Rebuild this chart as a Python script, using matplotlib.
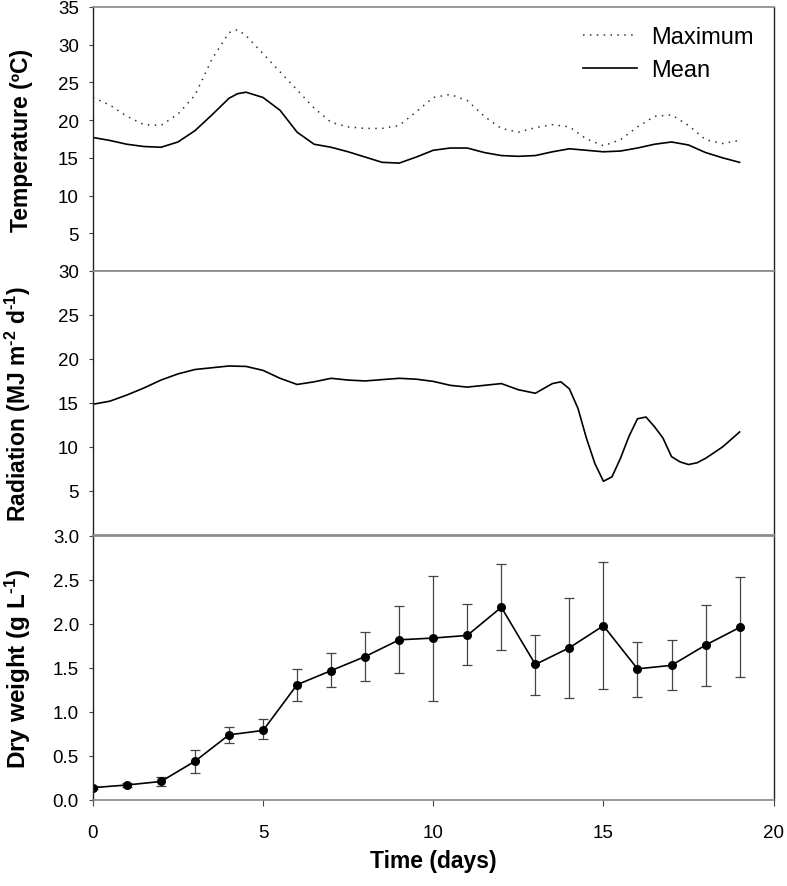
import numpy as np
import matplotlib
matplotlib.use("Agg")
import matplotlib.pyplot as plt

plt.rcParams['font.family'] = ['Liberation Sans', 'DejaVu Sans']
plt.rcParams['mathtext.fontset'] = 'custom'
plt.rcParams['mathtext.rm'] = 'Liberation Sans'
plt.rcParams['mathtext.bf'] = 'Liberation Sans:bold'
plt.rcParams['mathtext.default'] = 'bf'

# temperature, read every half day
temp_days = [0, 0.5, 1, 1.5, 2, 2.5, 3, 3.5, 4, 4.25, 4.5, 5, 5.5, 6, 6.5, 7, 7.5, 8, 8.5, 9,
             9.5, 10, 10.5, 11, 11.5, 12, 12.5, 13, 13.5, 14, 14.5, 15, 15.5, 16, 16.5,
             17, 17.5, 18, 18.5, 19]
temp_max = [23.0, 22.0, 20.5, 19.4, 19.3, 20.8, 23.3, 28.1, 31.6, 32.0, 31.2, 28.8, 26.4, 24.0,
            21.6, 19.7, 19.1, 18.9, 18.9, 19.3, 21.1, 23.0, 23.4, 22.6, 20.5, 18.9, 18.4,
            19.0, 19.4, 19.1, 17.5, 16.6, 17.4, 19.1, 20.5, 20.7, 19.3, 17.4, 16.9, 17.3]
temp_mean = [17.7, 17.3, 16.8, 16.5, 16.4, 17.1, 18.6, 20.7, 22.9, 23.5, 23.7, 23.0, 21.3, 18.4,
             16.8, 16.4, 15.8, 15.1, 14.4, 14.3, 15.1, 16.0, 16.3, 16.3, 15.7, 15.3, 15.2,
             15.3, 15.8, 16.2, 16.0, 15.8, 15.9, 16.3, 16.8, 17.1, 16.7, 15.7, 15.0, 14.4]

# radiation
rad_days = [0, 0.5, 1, 1.5, 2, 2.5, 3, 3.5, 4, 4.5, 5, 5.5, 6, 6.5, 7, 7.5, 8, 8.5, 9, 9.5,
            10, 10.5, 11, 11.5, 12, 12.5, 13, 13.5, 13.75, 14, 14.25, 14.5, 14.75, 15, 15.25,
            15.5, 15.75, 16, 16.25, 16.5, 16.75, 17, 17.25, 17.5, 17.75, 18, 18.5, 19]
radiation = [14.85, 15.2, 15.9, 16.7, 17.6, 18.3, 18.8, 19.0, 19.2, 19.15, 18.7, 17.8, 17.1,
             17.4, 17.8, 17.6, 17.5, 17.65, 17.8, 17.7, 17.45, 17.0, 16.8, 17.0, 17.2, 16.5,
             16.1, 17.2, 17.4, 16.6, 14.4, 11.0, 8.1, 6.1, 6.6, 8.7, 11.2, 13.2, 13.4, 12.3,
             11.0, 8.9, 8.3, 8.0, 8.2, 8.7, 10.0, 11.7]

# dry weight with error bar ends
dw_days = list(range(20))
dry_weight = [0.14, 0.17, 0.21, 0.44, 0.74, 0.79, 1.31, 1.47, 1.63, 1.82, 1.84, 1.87, 2.19,
              1.54, 1.73, 1.98, 1.49, 1.53, 1.76, 1.96]
dw_low = [0.12, 0.15, 0.16, 0.31, 0.65, 0.69, 1.13, 1.28, 1.35, 1.44, 1.13, 1.53, 1.70,
          1.19, 1.16, 1.26, 1.17, 1.25, 1.30, 1.40]
dw_high = [0.16, 0.19, 0.26, 0.57, 0.83, 0.92, 1.49, 1.67, 1.91, 2.21, 2.55, 2.23, 2.68,
           1.88, 2.30, 2.70, 1.80, 1.82, 2.22, 2.53]

fig = plt.figure(figsize=(7.87, 8.87), dpi=100)
L, W, H = 0.118, 0.865, 0.2976
ax1 = fig.add_axes([L, 0.6934, W, H])
ax2 = fig.add_axes([L, 0.3958, W, H])
ax3 = fig.add_axes([L, 0.0970, W, H])

for ax in (ax1, ax2, ax3):
    ax.set_xlim(0, 20)
    for s in ('left', 'right'):
        ax.spines[s].set_color('#222222')
        ax.spines[s].set_linewidth(1.0)
    for s in ('top', 'bottom'):
        ax.spines[s].set_color('#888888')
        ax.spines[s].set_linewidth(1.2)
    ax.tick_params(axis='y', direction='out', length=3, width=0.8, color='#444444',
                   labelsize=13.5, pad=7)

ax1.plot(temp_days, temp_max, color='#333333', lw=1.1, ls=(0, (1, 3.5)), label='Maximum')
ax1.plot(temp_days, temp_mean, color='black', lw=1.2, label='Mean')
ax1.set_ylim(0, 35)
ax1.set_yticks([5, 10, 15, 20, 25, 30, 35])
ax1.set_xticks([])
ax1.set_ylabel('Temperature (ºC)', fontsize=16.5, fontweight='bold')
ax1.yaxis.set_label_coords(-0.088, 0.5)
ax1.legend(loc='upper right', frameon=False, fontsize=17, handlelength=2.3,
           handletextpad=0.6, labelspacing=0.45, borderaxespad=0.3,
           bbox_to_anchor=(0.995, 0.99))

ax2.plot(rad_days, radiation, color='black', lw=1.2)
ax2.set_ylim(0, 30)
ax2.set_yticks([5, 10, 15, 20, 25, 30])
ax2.set_xticks([])
ax2.set_ylabel('Radiation (MJ m$^{\u20102}$ d$^{\u20101}$)', fontsize=16.5, fontweight='bold')
ax2.yaxis.set_label_coords(-0.088, 0.5)

err = [np.array(dry_weight) - np.array(dw_low), np.array(dw_high) - np.array(dry_weight)]
ax3.errorbar(dw_days, dry_weight, yerr=err, fmt='-o', color='black', ms=5.5, lw=1.2,
             ecolor='#444444', elinewidth=0.9, capsize=3.5, capthick=0.9)
ax3.set_ylim(0, 3.0)
ax3.set_yticks(np.arange(0, 3.01, 0.5))
ax3.set_yticklabels(['%.1f' % v for v in np.arange(0, 3.01, 0.5)])
ax3.set_xticks([0, 5, 10, 15, 20])
ax3.tick_params(axis='x', direction='out', length=4, width=0.8, color='#444444',
                labelsize=13.5, pad=13)
ax3.set_ylabel('Dry weight (g L$^{\u20101}$)', fontsize=17.5, fontweight='bold')
ax3.yaxis.set_label_coords(-0.088, 0.5)
ax3.set_xlabel('Time (days)', fontsize=16.5, fontweight='bold', labelpad=6)

fig.savefig('out.png', dpi=100)
